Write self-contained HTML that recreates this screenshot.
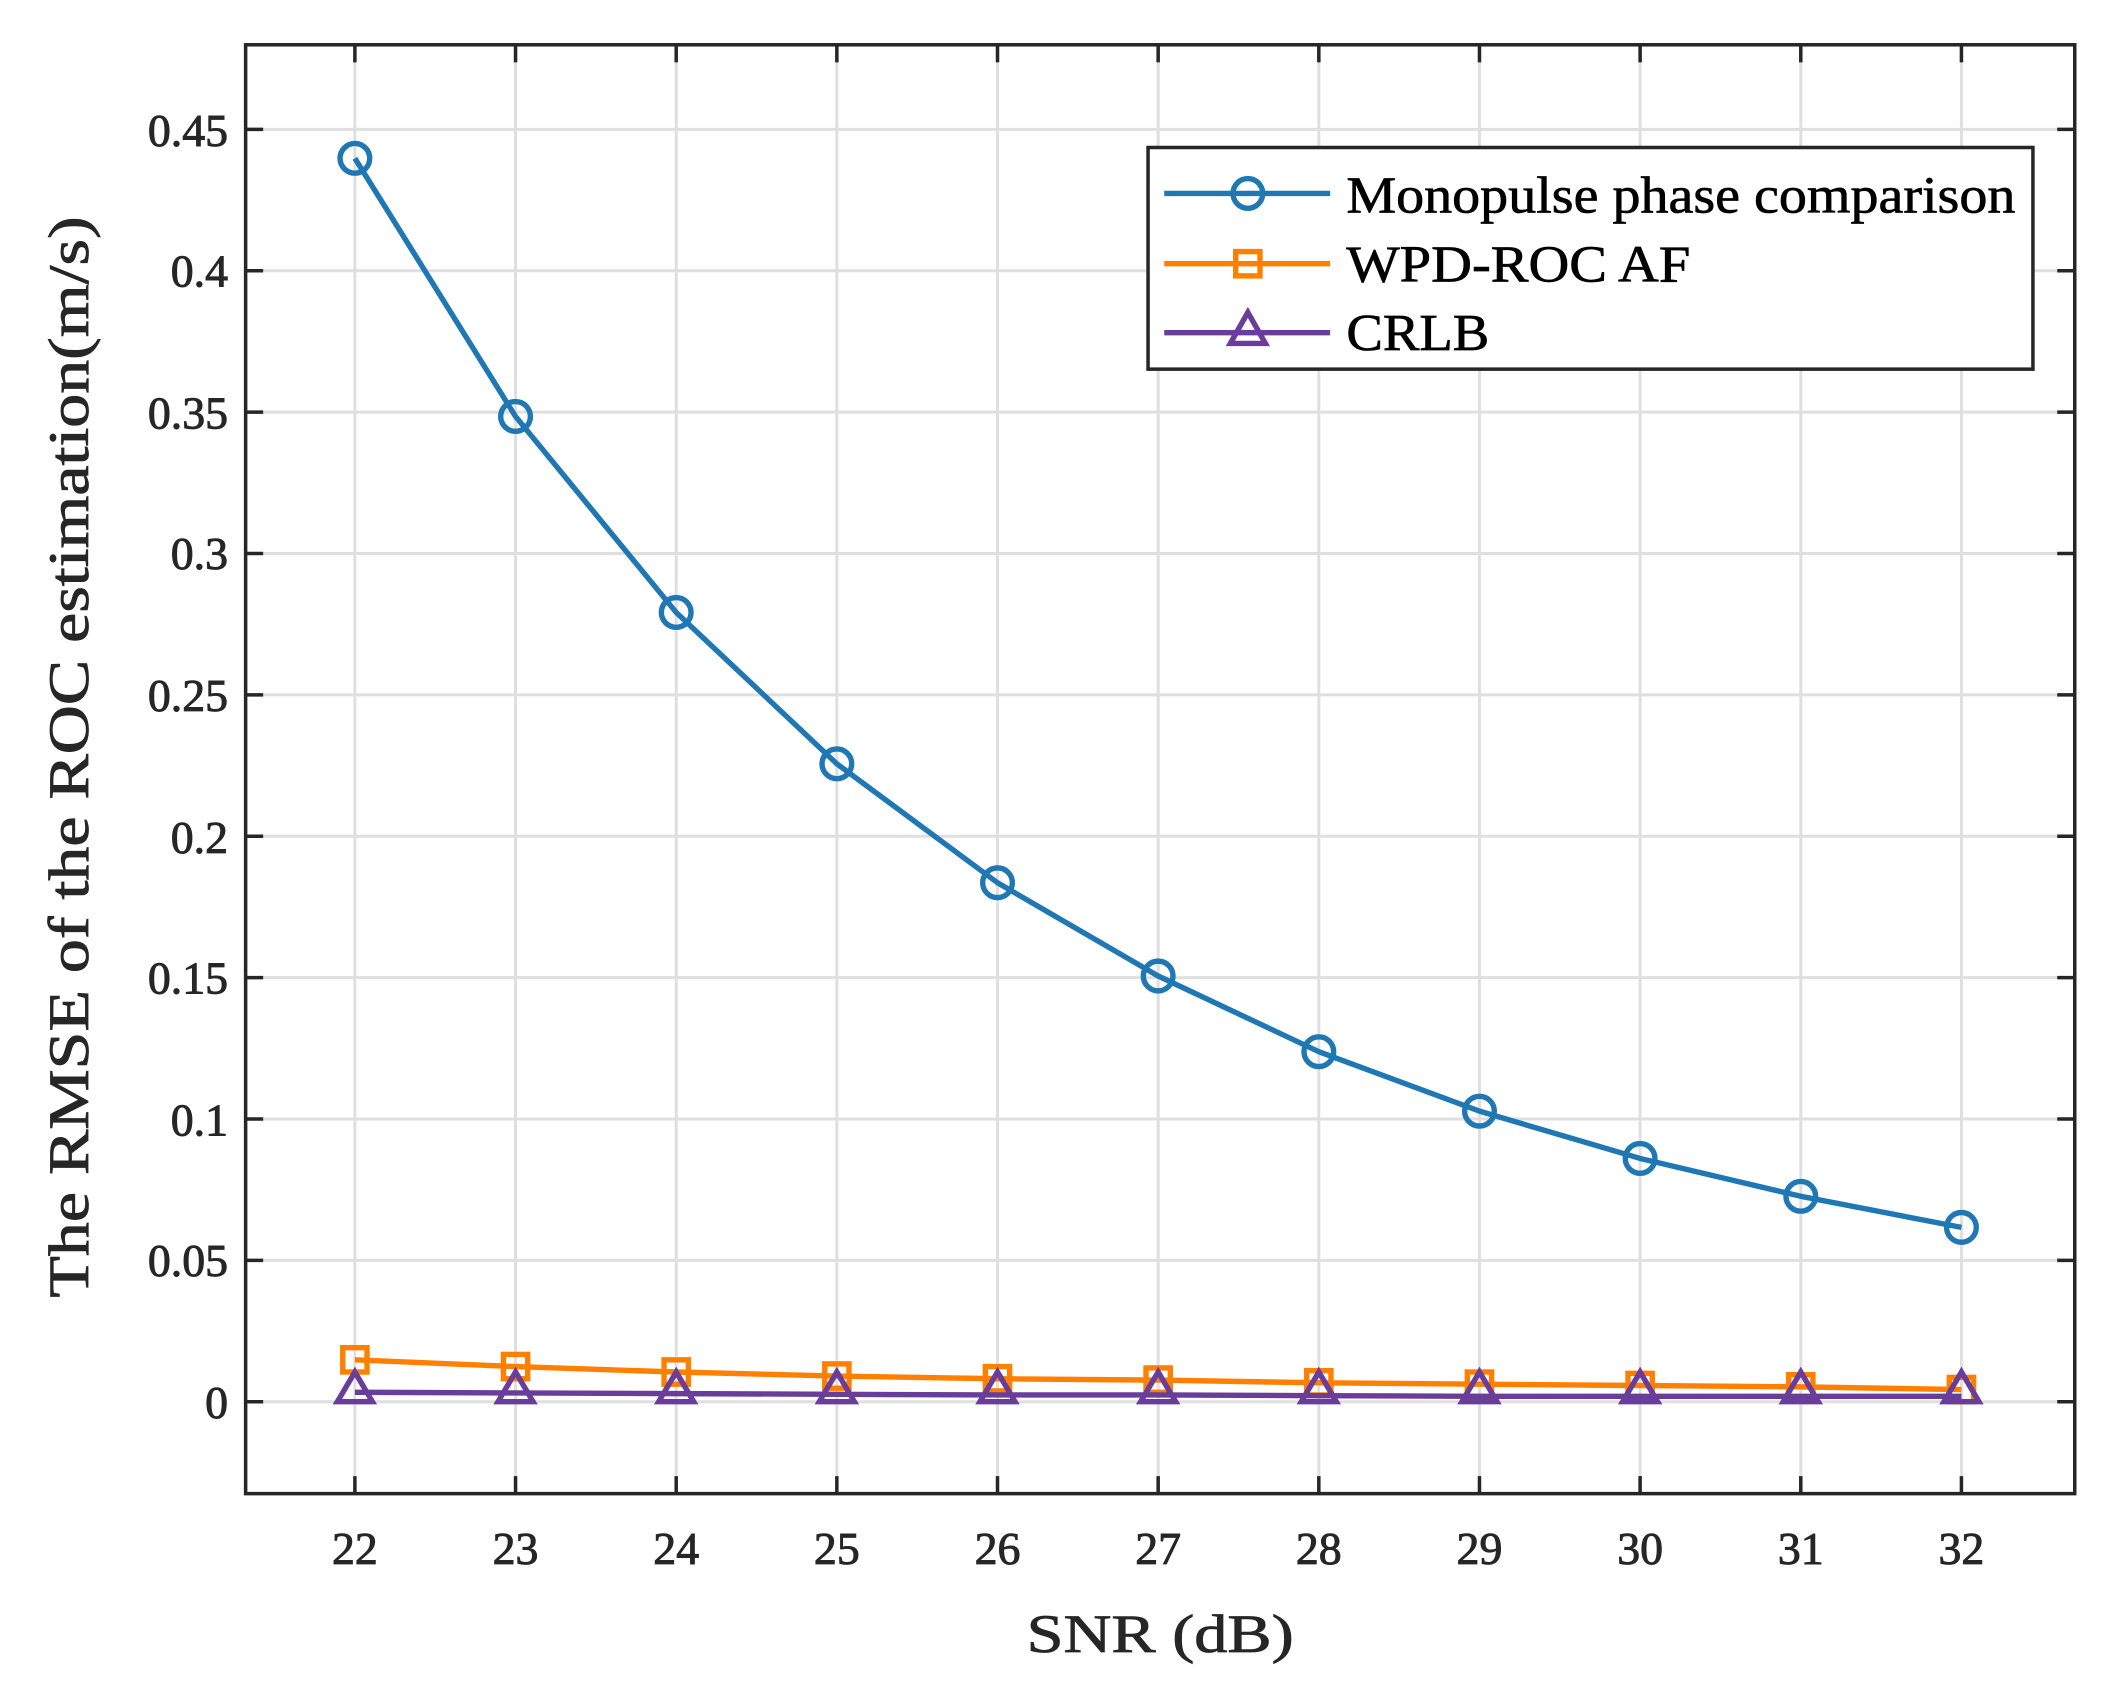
<!DOCTYPE html>
<html><head><meta charset="utf-8"><style>html,body{margin:0;padding:0;background:#fff}svg{display:block}</style></head>
<body>
<svg width="2117" height="1703" viewBox="0 0 1560 1255" preserveAspectRatio="none" xmlns="http://www.w3.org/2000/svg" font-family="Liberation Serif, serif" fill="#262626">
<rect width="1560" height="1255" fill="#fff"/>
<g transform="translate(181 33) scale(0.994 0.996) translate(-181 -33)">
<g stroke="#dfdfdf" stroke-width="2.2">
<line x1="262" y1="33" x2="262" y2="1105"/><line x1="381.1" y1="33" x2="381.1" y2="1105"/><line x1="500.2" y1="33" x2="500.2" y2="1105"/><line x1="619.3" y1="33" x2="619.3" y2="1105"/><line x1="738.4" y1="33" x2="738.4" y2="1105"/><line x1="857.5" y1="33" x2="857.5" y2="1105"/><line x1="976.6" y1="33" x2="976.6" y2="1105"/><line x1="1095.7" y1="33" x2="1095.7" y2="1105"/><line x1="1214.8" y1="33" x2="1214.8" y2="1105"/><line x1="1333.9" y1="33" x2="1333.9" y2="1105"/><line x1="1453" y1="33" x2="1453" y2="1105"/>
<line x1="181" y1="1037" x2="1537" y2="1037"/><line x1="181" y1="932.4" x2="1537" y2="932.4"/><line x1="181" y1="827.8" x2="1537" y2="827.8"/><line x1="181" y1="723.2" x2="1537" y2="723.2"/><line x1="181" y1="618.6" x2="1537" y2="618.6"/><line x1="181" y1="514" x2="1537" y2="514"/><line x1="181" y1="409.4" x2="1537" y2="409.4"/><line x1="181" y1="304.8" x2="1537" y2="304.8"/><line x1="181" y1="200.2" x2="1537" y2="200.2"/><line x1="181" y1="95.6" x2="1537" y2="95.6"/>
</g>
<g stroke="#262626" stroke-width="2.6">
<path d="M262 1105v-13M381.1 1105v-13M500.2 1105v-13M619.3 1105v-13M738.4 1105v-13M857.5 1105v-13M976.6 1105v-13M1095.7 1105v-13M1214.8 1105v-13M1333.9 1105v-13M1453 1105v-13"/>
<path d="M262 33v13M381.1 33v13M500.2 33v13M619.3 33v13M738.4 33v13M857.5 33v13M976.6 33v13M1095.7 33v13M1214.8 33v13M1333.9 33v13M1453 33v13"/>
<path d="M181 1037h13M181 932.4h13M181 827.8h13M181 723.2h13M181 618.6h13M181 514h13M181 409.4h13M181 304.8h13M181 200.2h13M181 95.6h13"/>
<path d="M1537 1037h-13M1537 932.4h-13M1537 827.8h-13M1537 723.2h-13M1537 618.6h-13M1537 514h-13M1537 409.4h-13M1537 304.8h-13M1537 200.2h-13M1537 95.6h-13"/>
<rect x="181" y="33" width="1356" height="1072" fill="none"/>
</g>
<g font-size="34" text-anchor="end" stroke="#262626" stroke-width="0.7">
<text x="168" y="1049">0</text><text x="168" y="944">0.05</text><text x="168" y="840">0.1</text><text x="168" y="735">0.15</text><text x="168" y="631">0.2</text><text x="168" y="526">0.25</text><text x="168" y="421">0.3</text><text x="168" y="317">0.35</text><text x="168" y="212">0.4</text><text x="168" y="108">0.45</text>
</g>
<g font-size="34" text-anchor="middle" stroke="#262626" stroke-width="0.7">
<text x="262" y="1157">22</text><text x="381.1" y="1157">23</text><text x="500.2" y="1157">24</text><text x="619.3" y="1157">25</text><text x="738.4" y="1157">26</text><text x="857.5" y="1157">27</text><text x="976.6" y="1157">28</text><text x="1095.7" y="1157">29</text><text x="1214.8" y="1157">30</text><text x="1333.9" y="1157">31</text><text x="1453" y="1157">32</text>
</g>
<text x="859" y="1222" font-size="40" text-anchor="middle" stroke="#262626" stroke-width="0.6" textLength="198" lengthAdjust="spacingAndGlyphs">SNR (dB)</text>
<text transform="translate(64 560) rotate(-90)" font-size="42" text-anchor="middle" stroke="#262626" stroke-width="0.6" textLength="800" lengthAdjust="spacingAndGlyphs">The RMSE of the ROC estimation(m/s)</text>
<polyline fill="none" stroke="#1f77b4" stroke-width="4" stroke-linejoin="round" points="262,117 381.1,308 500.2,453 619.3,565 738.4,653 857.5,722 976.6,778 1095.7,822 1214.8,857 1333.9,885 1453,908"/>
<g fill="none" stroke="#1f77b4" stroke-width="4">
<circle cx="262" cy="117" r="11"/><circle cx="381.1" cy="308" r="11"/><circle cx="500.2" cy="453" r="11"/><circle cx="619.3" cy="565" r="11"/><circle cx="738.4" cy="653" r="11"/><circle cx="857.5" cy="722" r="11"/><circle cx="976.6" cy="778" r="11"/><circle cx="1095.7" cy="822" r="11"/><circle cx="1214.8" cy="857" r="11"/><circle cx="1333.9" cy="885" r="11"/><circle cx="1453" cy="908" r="11"/>
</g>
<polyline fill="none" stroke="#ff8000" stroke-width="4" points="262,1006 381.1,1011 500.2,1015 619.3,1018 738.4,1020 857.5,1021 976.6,1023 1095.7,1024 1214.8,1025 1333.9,1026 1453,1028"/>
<g fill="none" stroke="#ff8000" stroke-width="4">
<rect x="253" y="997" width="18" height="18"/><rect x="372.1" y="1002" width="18" height="18"/><rect x="491.2" y="1006" width="18" height="18"/><rect x="610.3" y="1009" width="18" height="18"/><rect x="729.4" y="1011" width="18" height="18"/><rect x="848.5" y="1012" width="18" height="18"/><rect x="967.6" y="1014" width="18" height="18"/><rect x="1086.7" y="1015" width="18" height="18"/><rect x="1205.8" y="1016" width="18" height="18"/><rect x="1324.9" y="1017" width="18" height="18"/><rect x="1444" y="1019" width="18" height="18"/>
</g>
<polyline fill="none" stroke="#6a3d9a" stroke-width="4" points="262,1030 381.1,1030.5 500.2,1031 619.3,1031.5 738.4,1032 857.5,1032 976.6,1032.5 1095.7,1033 1214.8,1033 1333.9,1033 1453,1033"/>
<g fill="none" stroke="#6a3d9a" stroke-width="4">
<path d="M262 1015l-13 22h26z"/><path d="M381.1 1015l-13 22h26z"/><path d="M500.2 1015l-13 22h26z"/><path d="M619.3 1015l-13 22h26z"/><path d="M738.4 1015l-13 22h26z"/><path d="M857.5 1015l-13 22h26z"/><path d="M976.6 1015l-13 22h26z"/><path d="M1095.7 1015l-13 22h26z"/><path d="M1214.8 1015l-13 22h26z"/><path d="M1333.9 1015l-13 22h26z"/><path d="M1453 1015l-13 22h26z"/>
</g>
<rect x="850" y="109" width="656" height="164" fill="#fff" stroke="#262626" stroke-width="2.6"/>
<line x1="862" y1="143" x2="985" y2="143" stroke="#1f77b4" stroke-width="4"/>
<circle cx="924" cy="143" r="11" fill="none" stroke="#1f77b4" stroke-width="4"/>
<line x1="862" y1="195" x2="985" y2="195" stroke="#ff8000" stroke-width="4"/>
<rect x="915" y="186" width="18" height="18" fill="none" stroke="#ff8000" stroke-width="4"/>
<line x1="862" y1="246" x2="985" y2="246" stroke="#6a3d9a" stroke-width="4"/>
<path d="M924 231l-13 23h26z" fill="none" stroke="#6a3d9a" stroke-width="4"/>
<g font-size="38" fill="#000" stroke="#000" stroke-width="0.5">
<text x="997" y="157" textLength="496" lengthAdjust="spacingAndGlyphs">Monopulse phase comparison</text>
<text x="997" y="208" textLength="255" lengthAdjust="spacingAndGlyphs">WPD-ROC AF</text>
<text x="997" y="259" textLength="106" lengthAdjust="spacingAndGlyphs">CRLB</text>
</g>
</g>
</svg>
</body></html>
